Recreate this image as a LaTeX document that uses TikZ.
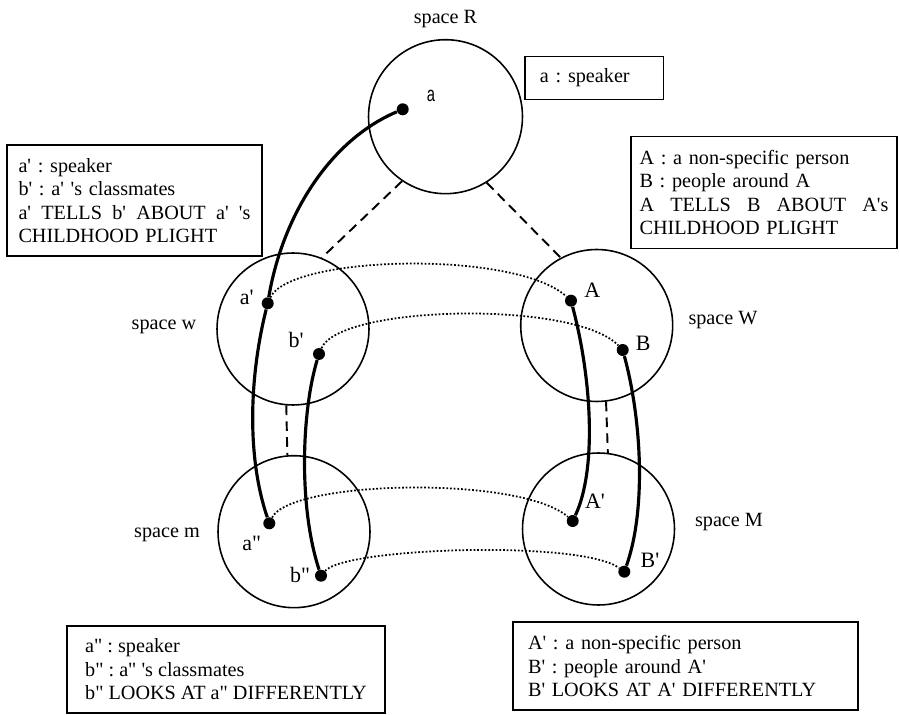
\documentclass[tikz,border=0pt]{standalone}
\usepackage{fontspec}
\setmainfont{Liberation Serif}[Ligatures=TeXOff]
\newfontfamily\narrowsans{Liberation Sans}[FakeStretch=0.7]
\usetikzlibrary{calc, positioning}
\frenchspacing

\begin{document}
\begin{tikzpicture}[x=0.02cm, y=-0.02cm,
    font=\fontsize{11.5}{13.4}\selectfont,
    space/.style={circle, draw, line width=0.9pt, minimum size=3.04cm, inner sep=0pt},
    elem/.style={circle, fill=black, inner sep=0pt, minimum size=0.24cm},
    elemlabel/.style={inner sep=0pt, font=\fontsize{12.5}{14}\selectfont},
    note/.style={draw, line width=0.8pt, align=left},
    link/.style={line width=1.8pt},
    counterpart/.style={line width=1pt, dash pattern=on 1pt off 1.1pt},
    access/.style={line width=1.1pt, dash pattern=on 5.5pt off 3.5pt}]
  \useasboundingbox (0,0) rectangle (899,715);
  % Spaces
  \node[space, minimum size=3.08cm] (spR) at (445.5,116.7) {};
  \node[space] (spw) at (293,329) {};
  \node[space] (spW) at (596.7,325.5) {};
  \node[space] (spm) at (294,531.7) {};
  \node[space] (spM) at (598.5,529) {};
  \node at (445.5,19) (nameR) {space R};
  \node at (164,327) (namew) {space w};
  \node at (167,535) (namem) {space m};
  \node at (723,320) (nameW) {space W};
  \node at (729,522) (nameM) {space M};
  % Elements
  \node[elem] (a) at (402.7,109.3) {};
  \node[elem] (a1) at (267.7,303.3) {};
  \node[elem] (b1) at (319,354) {};
  \node[elem] (a2) at (269.3,523.3) {};
  \node[elem] (b2) at (321,575.7) {};
  \node[elem] (A1) at (571,300.7) {};
  \node[elem] (B1) at (622.7,350) {};
  \node[elem] (A2) at (572.7,521) {};
  \node[elem] (B2) at (624.3,571.7) {};
  \node[inner sep=0pt, font=\narrowsans\fontsize{12}{14}\selectfont] (la) at (431,96) {a};
  \node[elemlabel] (la1) at (246.7,297.3) {a'};
  \node[elemlabel] (lb1) at (296,340) {b'};
  \node[elemlabel] (la2) at (251.7,543.3) {a"};
  \node[elemlabel] (lb2) at (300,575) {b"};
  \node[elemlabel] (lA1) at (592.3,290.7) {A};
  \node[elemlabel] (lB1) at (643.3,343.3) {B};
  \node[elemlabel] (lA2) at (595,501.7) {A'};
  \node[elemlabel] (lB2) at (650,560) {B'};
  % Space builders
  \draw[access] (spR.236.7) -- (spw.68.8);
  \draw[access] (spR.302) -- (spW.118.5);
  \draw[access] (spw.265) -- (spm.95);
  \draw[access] (spW.277) -- (spM.83);
  % Counterparts
  \draw[counterpart] (a1) .. controls +(22,-48) and +(-56,-51) .. (A1);
  \draw[counterpart] (b1) .. controls +(21,-49) and +(-48,-50) .. (B1);
  \draw[counterpart] (a2) .. controls +(21,-43) and +(-53,-46) .. (A2);
  \draw[counterpart] (b2) .. controls +(24,-28) and +(-44,-32) .. (B2);
  % Identity links
  \draw[link] (a) .. controls +(-73,31) and +(15,-88) .. (a1);
  \draw[link] (a1) .. controls +(-18,72) and +(-23,-68) .. (a2);
  \draw[link] (b1) .. controls +(-17,56) and +(-23,-71) .. (b2);
  \draw[link] (A1) .. controls +(21,79) and +(24,-51) .. (A2);
  \draw[link] (B1) .. controls +(19,70) and +(22,-62) .. (B2);
  % Keys
  \node[note, text width=2.17cm, inner xsep=0.3cm, minimum height=0.85cm] (keyR) at (594.2,78) {a : speaker};
  \node[note, text width=4.64cm, inner xsep=0.23cm, minimum height=2.22cm] (keyw) at (134.5,200.5)
    {a' : speaker\\ b' : a' 's classmates\\
     \leavevmode\hbox to 4.64cm{a'\hfill TELLS\hfill b'\hfill ABOUT\hfill a'\hfill 's}\\ CHILDHOOD PLIGHT};
  \node[note, text width=4.98cm, inner xsep=0.17cm, minimum height=2.23cm] (keyW) at (764,192.5)
    {A : a non-specific person\\ B : people around A\\
     \leavevmode\hbox to 4.98cm{A\hfill TELLS\hfill B\hfill ABOUT\hfill A's}\\ CHILDHOOD PLIGHT};
  \node[note, minimum width=6.36cm, minimum height=1.74cm] (keym) at (226,669.5)
    {a" : speaker\\ b" : a" 's classmates\\ b" LOOKS AT a" DIFFERENTLY};
  \node[note, text width=6.3cm, inner xsep=0.3cm, minimum height=1.76cm] (keyM) at (685.5,666)
    {A' : a non-specific person\\ B' : people around A'\\ B' LOOKS AT A' DIFFERENTLY};
\end{tikzpicture}
\end{document}
